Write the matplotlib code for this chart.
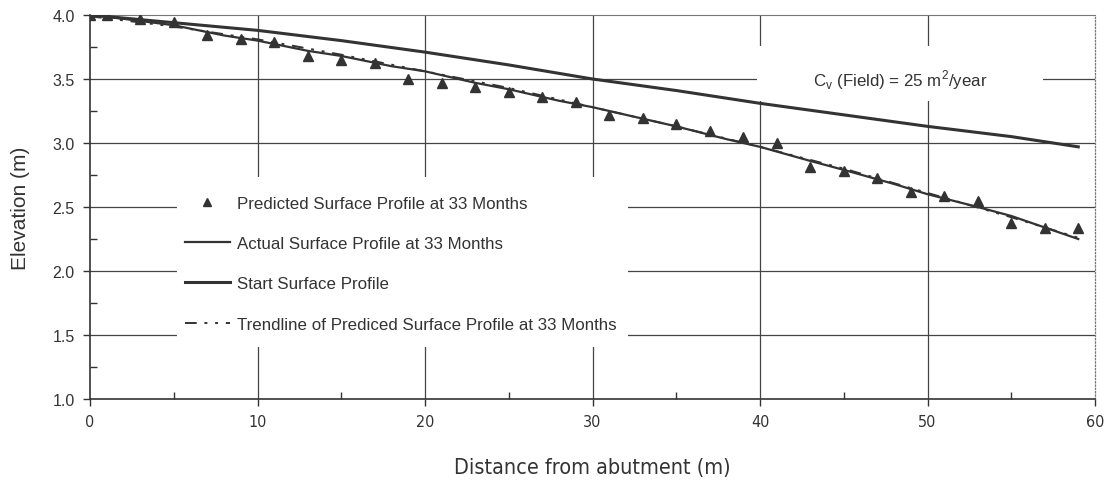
import numpy as np
import matplotlib
matplotlib.use("Agg")
import matplotlib.pyplot as plt
from matplotlib.ticker import MultipleLocator
from matplotlib.patches import Rectangle
from matplotlib import font_manager

# ---- data ----
pred_x = [0, 1, 3, 5, 7, 9, 11, 13, 15, 17, 19, 21, 23, 25, 27, 29, 31, 33, 35, 37,
          39, 41, 43, 45, 47, 49, 51, 53, 55, 57, 59]
pred_y = [4.00, 4.00, 3.97, 3.945, 3.84, 3.81, 3.79, 3.68, 3.65, 3.625, 3.50, 3.47,
          3.44, 3.40, 3.36, 3.32, 3.22, 3.195, 3.15, 3.094, 3.047, 3.00, 2.81, 2.78,
          2.73, 2.617, 2.586, 2.547, 2.375, 2.336, 2.336]

actual_x = [0, 2, 5, 8, 10, 13, 15, 18, 20, 23, 25, 28, 30, 33, 35, 38, 40, 43, 45,
            48, 50, 53, 55, 57, 59]
actual_y = [4.00, 3.97, 3.92, 3.84, 3.80, 3.72, 3.68, 3.60, 3.56, 3.47, 3.42, 3.33,
            3.28, 3.19, 3.13, 3.03, 2.97, 2.86, 2.79, 2.68, 2.60, 2.50, 2.43, 2.34, 2.25]

start_x = [0, 5, 10, 15, 20, 25, 30, 35, 40, 45, 50, 55, 59]
start_y = [4.00, 3.94, 3.88, 3.80, 3.71, 3.61, 3.50, 3.41, 3.31, 3.22, 3.13, 3.05, 2.97]

trend_x = [0, 5, 10, 15, 20, 25, 30, 35, 40, 45, 50, 55, 59]
trend_y = [3.99, 3.91, 3.81, 3.69, 3.56, 3.43, 3.28, 3.13, 2.97, 2.80, 2.61, 2.42, 2.26]

x_ticks = [0, 10, 20, 30, 40, 50, 60]
y_ticks = [1.0, 1.5, 2.0, 2.5, 3.0, 3.5, 4.0]

labels = ["Predicted Surface Profile at 33 Months",
          "Actual Surface Profile at 33 Months",
          "Start Surface Profile",
          "Trendline of Prediced Surface Profile at 33 Months"]
cv_text = r"C$_\mathregular{v}$ (Field) = 25 m$^\mathregular{2}$/year"


def narrow_font():
    for fam in ['Liberation Sans Narrow']:
        try:
            font_manager.findfont(fam, fallback_to_default=False)
            return dict(family=[fam, 'DejaVu Sans'])
        except Exception:
            pass
    return dict(family=['DejaVu Sans'], stretch='condensed')


NARROW = narrow_font()

# ---- figure ----
plt.rcParams['font.family'] = ['Liberation Sans', 'DejaVu Sans']
ink = '#333333'
fig = plt.figure(figsize=(11.1, 4.89), dpi=100)
ax = fig.add_axes([90/1110, 1 - 400/489, 1005/1110, 384/489])

ax.set_xlim(0, 60)
ax.set_ylim(1.0, 4.0)

# grid
for gx in x_ticks[1:-1]:
    ax.axvline(gx, color='#444444', lw=0.9, zorder=1)
for gy in y_ticks[1:-1]:
    ax.axhline(gy, color='#444444', lw=0.9, zorder=1)

# white blank areas behind legend and annotation (break the grid lines)
ax.add_patch(Rectangle((5.2, 1.41), 26.9, 1.325, facecolor='white', edgecolor='none',
                       zorder=2))
ax.add_patch(Rectangle((39.85, 3.33), 17.05, 0.43, facecolor='white', edgecolor='none',
                       zorder=2))

ax.plot(pred_x, pred_y, linestyle='none', marker='^', ms=7, color=ink, zorder=4,
        label=labels[0])
ax.plot(actual_x, actual_y, color=ink, lw=1.6, zorder=3, label=labels[1])
ax.plot(start_x, start_y, color=ink, lw=2.2, zorder=3, label=labels[2])
ax.plot(trend_x, trend_y, color=ink, lw=1.4, linestyle=(0, (6, 4, 1.5, 4, 1.5, 4)),
        zorder=3, label=labels[3])

leg = ax.legend(loc='upper left', bbox_to_anchor=(0.086, 0.552), frameon=False,
                fontsize=12.2, labelspacing=1.5, handlelength=2.65, handletextpad=0.4,
                borderpad=0.0, labelcolor=ink, markerscale=0.75)
leg.set_zorder(5)

ax.text(48.4, 3.5, cv_text, fontsize=12.2, color=ink, ha='center', va='center',
        zorder=5)

# spines
for s in ['left', 'bottom']:
    ax.spines[s].set_color(ink)
    ax.spines[s].set_linewidth(1.2)
ax.spines['top'].set_color('#777777')
ax.spines['top'].set_linewidth(0.8)
ax.spines['right'].set_color('#777777')
ax.spines['right'].set_linestyle(':')
ax.spines['right'].set_linewidth(0.9)

ax.set_xticks(x_ticks)
ax.set_yticks(y_ticks)
ax.set_yticklabels([f"{v:.1f}" for v in y_ticks])
ax.xaxis.set_minor_locator(MultipleLocator(5))
ax.yaxis.set_minor_locator(MultipleLocator(0.25))
ax.tick_params(axis='both', which='major', direction='out', length=5, width=1,
               color=ink, labelcolor=ink, labelsize=11.5)
ax.tick_params(axis='both', which='minor', direction='in', length=5, width=1,
               color=ink)
ax.tick_params(axis='x', which='major', pad=6)
ax.tick_params(axis='y', which='major', pad=6)
ax.tick_params(top=False, right=False, which='both')
for lab in ax.get_xticklabels():
    lab.set(**NARROW)

ax.set_xlabel("Distance from abutment (m)", fontsize=15.5, color=ink,
              labelpad=20, **NARROW)
ax.set_ylabel("Elevation (m)", fontsize=15, color=ink, labelpad=16)

fig.savefig("out.png", dpi=100, facecolor='white')
